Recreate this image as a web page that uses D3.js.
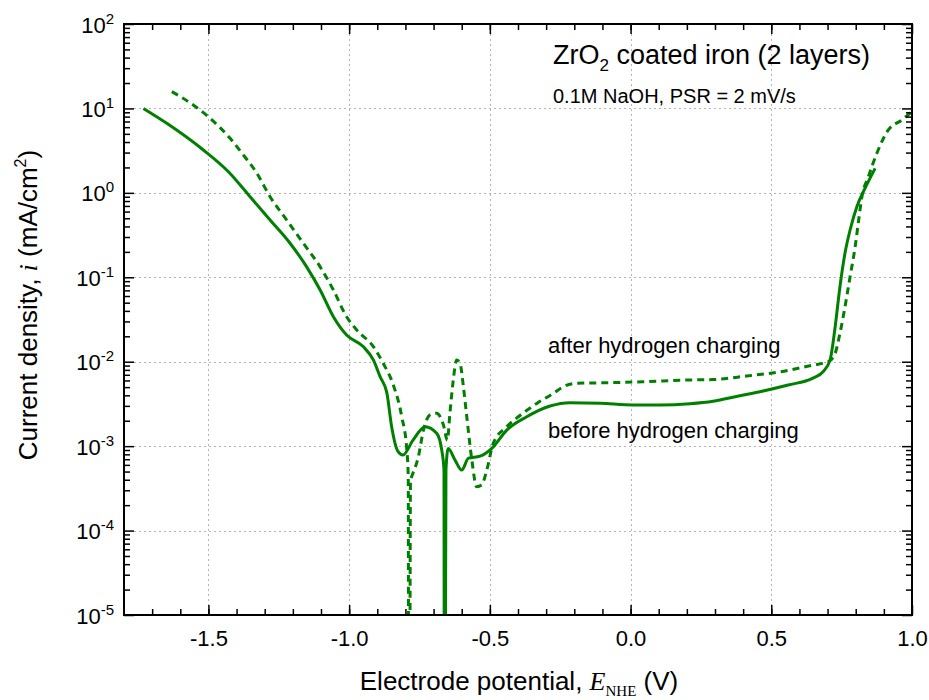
<!DOCTYPE html>
<html>
<head>
<meta charset="utf-8">
<script src="https://cdn.jsdelivr.net/npm/d3@7"></script>
<style>
  body { margin: 0; background: #fff; }
  svg { display: block; }
  text { font-family: "Liberation Sans", Arial, sans-serif; fill: #000; }
</style>
</head>
<body>
<div id="chart"></div>
<script>
// potential (V vs NHE) and current density (mA/cm2)
const potBefore = [-1.731, -1.648, -1.518, -1.429, -1.352, -1.281, -1.21, -1.151, -1.103, -1.056,
  -1.009, -0.95, -0.914, -0.89, -0.866, -0.849, -0.826, -0.809, -0.773, -0.73,
  -0.689, -0.671, -0.663, -0.6615, -0.6605, -0.656, -0.648, -0.624, -0.60, -0.576,
  -0.535, -0.493, -0.44, -0.369, -0.286, -0.215, -0.108, 0.009, 0.105, 0.211,
  0.293, 0.38, 0.471, 0.56, 0.648, 0.684, 0.709, 0.727, 0.744, 0.762, 0.78, 0.804,
  0.833, 0.869];
const curBefore = [10.0, 6.67, 3.22, 1.78, 0.90, 0.477, 0.253, 0.133, 0.0707, 0.0341,
  0.0207, 0.0151, 0.0105, 0.00665, 0.00427, 0.0017, 0.00086, 0.000785, 0.00118, 0.0017,
  0.00142, 0.0009, 0.00052, 1e-8, 1e-8, 0.00052, 0.00094, 0.000686, 0.00052, 0.00072,
  0.00076, 0.00094, 0.00155, 0.00223, 0.00299, 0.00327, 0.00322, 0.00307, 0.00307, 0.00318,
  0.0034, 0.0039, 0.0045, 0.0053, 0.0064, 0.0076, 0.0105, 0.026, 0.0774, 0.194, 0.363, 0.686,
  1.13, 1.95];

const potAfter = [-1.63, -1.554, -1.494, -1.423, -1.376, -1.328, -1.281, -1.222, -1.163, -1.103,
  -1.056, -1.009, -0.973, -0.914, -0.879, -0.843, -0.813, -0.795, -0.79, -0.788,
  -0.786, -0.782, -0.778, -0.754, -0.736, -0.713, -0.689, -0.665, -0.651, -0.642,
  -0.63, -0.618, -0.606, -0.594, -0.582, -0.564, -0.547, -0.529, -0.511, -0.488,
  -0.44, -0.399, -0.333, -0.274, -0.239, -0.191, -0.073, 0.045, 0.211, 0.293,
  0.413, 0.531, 0.65, 0.703, 0.727, 0.744, 0.762, 0.78, 0.798, 0.809,
  0.822, 0.845, 0.875, 0.916, 0.964, 0.999];
const curAfter = [15.8, 11.0, 7.64, 4.43, 2.81, 1.71, 0.90, 0.477, 0.253, 0.133,
  0.0707, 0.0341, 0.0238, 0.0151, 0.00958, 0.0053, 0.00223, 0.0009, 0.000435, 1e-8,
  1e-8, 0.0004, 0.000435, 0.00075, 0.00155, 0.00234, 0.00245, 0.00178, 0.00118, 0.00245,
  0.00608, 0.0105, 0.00958, 0.00506, 0.00223, 0.000686, 0.000331, 0.000347, 0.00052, 0.00108,
  0.0017, 0.00223, 0.00321, 0.00423, 0.00506, 0.00555, 0.00565, 0.0058, 0.00608, 0.00615,
  0.00678, 0.0076, 0.00915, 0.01, 0.0126, 0.0217, 0.0449, 0.1016, 0.23, 0.435,
  0.90, 1.55, 2.94, 5.56, 7.3, 9.15];

const xTicks = [-1.5, -1.0, -0.5, 0.0, 0.5, 1.0];
const xMinor = d3.range(-17, 10).map(d => d / 10);
const yExp = [-5, -4, -3, -2, -1, 0, 1, 2];
const xGrid = [-1.5, -1.0, -0.5, 0.0, 0.5];
const yGrid = [1e-4, 1e-3, 1e-2, 1e-1, 1, 10];

const width = 929, height = 700;
const margin = { left: 124, right: 912, top: 24, bottom: 615 };
const green = '#008000';

const x = d3.scaleLinear().domain([-1.8, 1.0]).range([margin.left, margin.right]);
const y = d3.scaleLog().domain([1e-5, 1e2]).range([margin.bottom, margin.top]);

const yTicks = yExp.map(e => Math.pow(10, e));
const yMinor = [];
yExp.slice(0, -1).forEach(e => {
  for (let k = 2; k <= 9; k++) yMinor.push(k * Math.pow(10, e));
});

const svg = d3.select('#chart').append('svg')
  .attr('width', width)
  .attr('height', height);

svg.append('defs').append('clipPath').attr('id', 'plotclip')
  .append('rect')
  .attr('x', margin.left).attr('y', margin.top)
  .attr('width', margin.right - margin.left).attr('height', margin.bottom - margin.top);

// grid
const grid = svg.append('g')
  .attr('stroke', '#b4b4b4')
  .attr('stroke-width', 1)
  .attr('stroke-dasharray', '2,3');
grid.selectAll('.gx').data(xGrid).enter().append('line')
  .attr('x1', d => Math.round(x(d)) + 0.5).attr('x2', d => Math.round(x(d)) + 0.5)
  .attr('y1', margin.top).attr('y2', margin.bottom);
grid.selectAll('.gy').data(yGrid).enter().append('line')
  .attr('x1', margin.left).attr('x2', margin.right)
  .attr('y1', d => Math.round(y(d)) + 0.5).attr('y2', d => Math.round(y(d)) + 0.5);

// curves
const line = d3.line()
  .x(d => x(d[0]))
  .y(d => y(d[1]))
  .curve(d3.curveMonotoneX);

const plot = svg.append('g').attr('clip-path', 'url(#plotclip)');

plot.append('path')
  .datum(potBefore.map((p, i) => [p, curBefore[i]]))
  .attr('fill', 'none')
  .attr('stroke', green)
  .attr('stroke-width', 3)
  .attr('stroke-linejoin', 'round')
  .attr('d', line);

plot.append('path')
  .datum(potAfter.map((p, i) => [p, curAfter[i]]))
  .attr('fill', 'none')
  .attr('stroke', green)
  .attr('stroke-width', 3)
  .attr('stroke-dasharray', '7,5')
  .attr('d', line);

// axes, ticks pointing inward on all four sides
function style(g) {
  g.select('.domain').remove();
  g.selectAll('line').attr('stroke', '#000').attr('stroke-width', 1.5);
}

svg.append('g')
  .attr('transform', `translate(0,${margin.bottom})`)
  .call(d3.axisBottom(x).tickValues(xMinor).tickSizeInner(-6).tickSizeOuter(0).tickFormat(''))
  .call(style);
svg.append('g')
  .attr('transform', `translate(0,${margin.top})`)
  .call(d3.axisTop(x).tickValues(xMinor).tickSizeInner(-6).tickSizeOuter(0).tickFormat(''))
  .call(style);
svg.append('g')
  .attr('transform', `translate(0,${margin.top})`)
  .call(d3.axisTop(x).tickValues(xTicks).tickSizeInner(-10).tickSizeOuter(0).tickFormat(''))
  .call(style);

const xAxis = svg.append('g')
  .attr('transform', `translate(0,${margin.bottom})`)
  .call(d3.axisBottom(x).tickValues(xTicks).tickSizeInner(-10).tickSizeOuter(0)
    .tickPadding(15).tickFormat(d3.format('.1f')))
  .call(style);
xAxis.selectAll('text')
  .attr('font-size', 22)
  .style('font-family', '"Liberation Sans", Arial, sans-serif')
  .text(d => d3.format('.1f')(d).replace('−', '-'));

svg.append('g')
  .attr('transform', `translate(${margin.left},0)`)
  .call(d3.axisLeft(y).tickValues(yMinor).tickSizeInner(-6).tickSizeOuter(0).tickFormat(''))
  .call(style);
svg.append('g')
  .attr('transform', `translate(${margin.right},0)`)
  .call(d3.axisRight(y).tickValues(yMinor).tickSizeInner(-6).tickSizeOuter(0).tickFormat(''))
  .call(style);
svg.append('g')
  .attr('transform', `translate(${margin.right},0)`)
  .call(d3.axisRight(y).tickValues(yTicks).tickSizeInner(-10).tickSizeOuter(0).tickFormat(''))
  .call(style);

const yAxis = svg.append('g')
  .attr('transform', `translate(${margin.left},0)`)
  .call(d3.axisLeft(y).tickValues(yTicks).tickSizeInner(-10).tickSizeOuter(0).tickPadding(10).tickFormat(''))
  .call(style);
yAxis.selectAll('text')
  .attr('font-size', 22)
  .attr('dy', null)
  .attr('y', 8)
  .style('font-family', '"Liberation Sans", Arial, sans-serif')
  .each(function (d) {
    const t = d3.select(this);
    t.append('tspan').text('10');
    t.append('tspan').attr('font-size', 15).attr('dy', -9).text(Math.round(Math.log10(d)));
  });

// frame
svg.append('rect')
  .attr('x', margin.left).attr('y', margin.top)
  .attr('width', margin.right - margin.left).attr('height', margin.bottom - margin.top)
  .attr('fill', 'none')
  .attr('stroke', '#000')
  .attr('stroke-width', 2);

// axis titles
const xTitle = svg.append('text')
  .attr('x', 519).attr('y', 690)
  .attr('text-anchor', 'middle')
  .attr('font-size', 26);
xTitle.append('tspan').text('Electrode potential, ');
xTitle.append('tspan')
  .style('font-family', '"Liberation Serif", "Times New Roman", serif')
  .attr('font-style', 'italic').text('E');
xTitle.append('tspan')
  .style('font-family', '"Liberation Serif", "Times New Roman", serif')
  .attr('font-size', 15).attr('dy', 6).text('NHE');
xTitle.append('tspan').attr('dy', -6).text(' (V)');

const yTitle = svg.append('text')
  .attr('transform', 'translate(37,305) rotate(-90)')
  .attr('text-anchor', 'middle')
  .attr('font-size', 26);
yTitle.append('tspan').text('Current density, ');
yTitle.append('tspan')
  .style('font-family', '"Liberation Serif", "Times New Roman", serif')
  .attr('font-style', 'italic').text('i');
yTitle.append('tspan').text(' (mA/cm');
yTitle.append('tspan').attr('font-size', 16).attr('dy', -11).text('2');
yTitle.append('tspan').attr('dy', 11).text(')');

// annotations
const title = svg.append('text')
  .attr('x', 553).attr('y', 64)
  .attr('font-size', 27);
title.append('tspan').text('ZrO');
title.append('tspan').attr('font-size', 17).attr('dy', 7).text('2');
title.append('tspan').attr('dy', -7).text(' coated iron (2 layers)');

svg.append('text')
  .attr('x', 553).attr('y', 103)
  .attr('font-size', 20)
  .text('0.1M NaOH, PSR = 2 mV/s');

svg.append('text')
  .attr('x', 548).attr('y', 353)
  .attr('font-size', 22)
  .text('after hydrogen charging');

svg.append('text')
  .attr('x', 548).attr('y', 438)
  .attr('font-size', 22)
  .text('before hydrogen charging');
</script>
</body>
</html>
